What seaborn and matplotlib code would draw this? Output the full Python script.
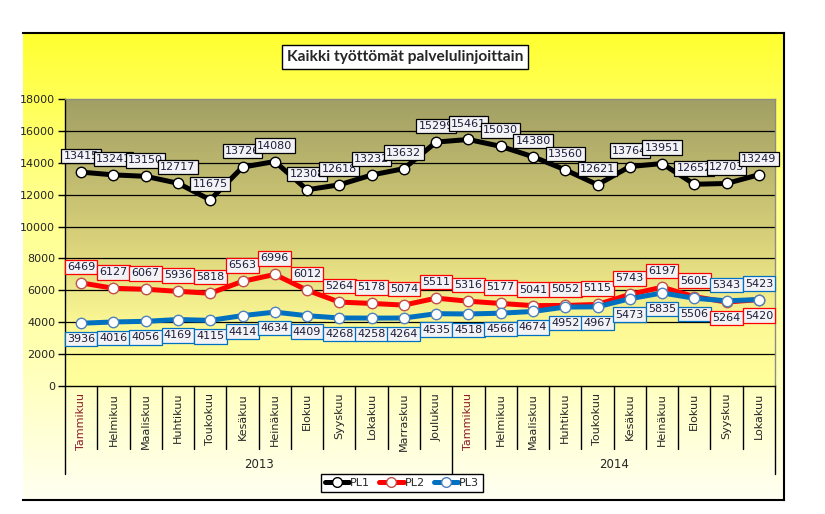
import numpy as np
import pandas as pd
import seaborn as sns
import matplotlib.pyplot as plt
from matplotlib.colors import LinearSegmentedColormap
from matplotlib.lines import Line2D

# Data
months_2013 = ["Tammikuu", "Helmikuu", "Maaliskuu", "Huhtikuu", "Toukokuu", "Kesäkuu",
               "Heinäkuu", "Elokuu", "Syyskuu", "Lokakuu", "Marraskuu", "Joulukuu"]
months_2014 = ["Tammikuu", "Helmikuu", "Maaliskuu", "Huhtikuu", "Toukokuu", "Kesäkuu",
               "Heinäkuu", "Elokuu", "Syyskuu", "Lokakuu"]
years = ["2013", "2014"]
pl1 = [13415, 13241, 13150, 12717, 11675, 13726, 14080, 12308, 12618, 13232, 13632,
       15299, 15461, 15030, 14380, 13560, 12621, 13764, 13951, 12652, 12703, 13249]
pl2 = [6469, 6127, 6067, 5936, 5818, 6563, 6996, 6012, 5264, 5178, 5074,
       5511, 5316, 5177, 5041, 5052, 5115, 5743, 6197, 5605, 5264, 5420]
pl3 = [3936, 4016, 4056, 4169, 4115, 4414, 4634, 4409, 4268, 4258, 4264,
       4535, 4518, 4566, 4674, 4952, 4967, 5473, 5835, 5506, 5343, 5423]

months = months_2013 + months_2014
x = np.arange(len(months))
df = pd.DataFrame({"kk": x, "PL1": pl1, "PL2": pl2, "PL3": pl3})

sns.set_style("white")
plt.rcParams["font.family"] = ["DejaVu Sans"]

W, H = 825, 514
fig = plt.figure(figsize=(W / 100, H / 100), dpi=100)


def box(l, t, r, b):
    return [l / W, 1 - b / H, (r - l) / W, (b - t) / H]


# chart area background (yellow gradient)
bg = fig.add_axes(box(23, 33, 784, 500), zorder=0)
cmap_bg = LinearSegmentedColormap.from_list("bg", ["#fffff2", "#ffffb0", "#ffff8a", "#ffff30"])
bg.imshow(np.linspace(0, 1, 256).reshape(-1, 1), cmap=cmap_bg, aspect="auto",
          origin="lower", extent=(0, 1, 0, 1))
bg.set_xticks([])
bg.set_yticks([])
bg.spines["left"].set_visible(False)
for s in ["top", "right", "bottom"]:
    bg.spines[s].set_color("black")
    bg.spines[s].set_linewidth(1.5)

# plot area
ax = fig.add_axes(box(65, 99, 775, 386), zorder=1)
cmap_pa = LinearSegmentedColormap.from_list(
    "pa", [(0.0, "#ffff9c"), (0.2, "#fdfa96"), (0.5, "#dad27a"), (1.0, "#a19f64")])
ax.imshow(np.linspace(0, 1, 256).reshape(-1, 1), cmap=cmap_pa, aspect="auto",
          origin="lower", extent=(-0.5, 21.5, 0, 18000), zorder=0)

yt = np.arange(0, 18001, 2000)
for y in yt[1:-1]:
    ax.axhline(y, color="black", lw=0.9, zorder=0.5)

series = [("PL1", "black", "black"), ("PL2", "#ff0000", "#c0504d"), ("PL3", "#0070c0", "#4f81bd")]
for name, col, edge in series:
    sns.lineplot(data=df, x="kk", y=name, color=col, lw=3.6, marker="o", markersize=7.5,
                 markerfacecolor="white", markeredgecolor=edge, markeredgewidth=1,
                 ax=ax, legend=False, zorder=2)

# data labels
def lab(v, i, dy, ec):
    ax.annotate(str(v), (i, v), xytext=(0, dy), textcoords="offset points",
                ha="center", va="center", fontsize=8, color="#1c1c3c", zorder=5,
                bbox=dict(boxstyle="square,pad=0.2", fc="#f3f3f6", ec=ec, lw=0.9))

for i in range(len(months)):
    lab(pl1[i], i, 11.5, "black")
    up2 = pl2[i] >= pl3[i]
    lab(pl2[i], i, 11.5 if up2 else -11.5, "#ff0000")
    lab(pl3[i], i, -11.5 if up2 else 11.5, "#0070c0")

ax.set_xlim(-0.5, 21.5)
ax.set_ylim(0, 18000)
ax.set_yticks(yt)
ax.set_yticklabels([str(v) for v in yt])
ax.tick_params(axis="y", left=True, direction="out", length=5, width=1, color="black",
               labelsize=8, pad=2)
ax.set_xticks(x)
ax.set_xticklabels(months, rotation=90, fontsize=8, va="top")
ax.tick_params(axis="x", bottom=False, length=0, pad=5)
for t in ax.get_xticklabels():
    if t.get_text() == "Tammikuu":
        t.set_color("#8b1a2a")
ax.set_xlabel("")
ax.set_ylabel("")
ax.spines["left"].set_color("black")
ax.spines["bottom"].set_color("black")
ax.spines["top"].set_color("#8c8c80")
ax.spines["right"].set_color("#8c8c80")
for s in ax.spines.values():
    s.set_linewidth(1)

# category separators and year groups
tr = ax.get_xaxis_transform()
for k in range(1, len(months)):
    if k == len(months_2013):
        continue
    ax.plot([k - 0.5, k - 0.5], [0, -0.22], transform=tr, color="black", lw=1, clip_on=False)
for k in [0, len(months_2013), len(months)]:
    ax.plot([k - 0.5, k - 0.5], [0, -0.307], transform=tr, color="black", lw=1, clip_on=False)
ax.text((len(months_2013) - 1) / 2, -0.275, years[0], transform=tr, ha="center", va="center", fontsize=8.5)
ax.text(len(months_2013) + (len(months_2014) - 1) / 2, -0.275, years[1], transform=tr,
        ha="center", va="center", fontsize=8.5)

# title
fig.text(405 / W, 1 - 57 / H, "Kaikki työttömät palvelulinjoittain", ha="center", va="center",
         fontsize=11.2, fontweight="bold", family=["Lato", "DejaVu Sans"], zorder=3,
         bbox=dict(boxstyle="square,pad=0.3", fc="white", ec="black", lw=1))

# legend
handles = [Line2D([], [], color=c, lw=3.6, marker="o", markersize=7, mfc="white", mec=e)
           for _, c, e in series]
leg = fig.legend(handles, [s[0] for s in series], loc="center",
                 bbox_to_anchor=(402 / W, 1 - 483 / H), ncol=3, frameon=True, fancybox=False,
                 edgecolor="black", facecolor="white", fontsize=8, handlelength=2.2,
                 handletextpad=0.1, columnspacing=0.8, borderpad=0.35, framealpha=1)
leg.get_frame().set_linewidth(1)
leg.set_zorder(4)

fig.savefig("out.png", dpi=100)
